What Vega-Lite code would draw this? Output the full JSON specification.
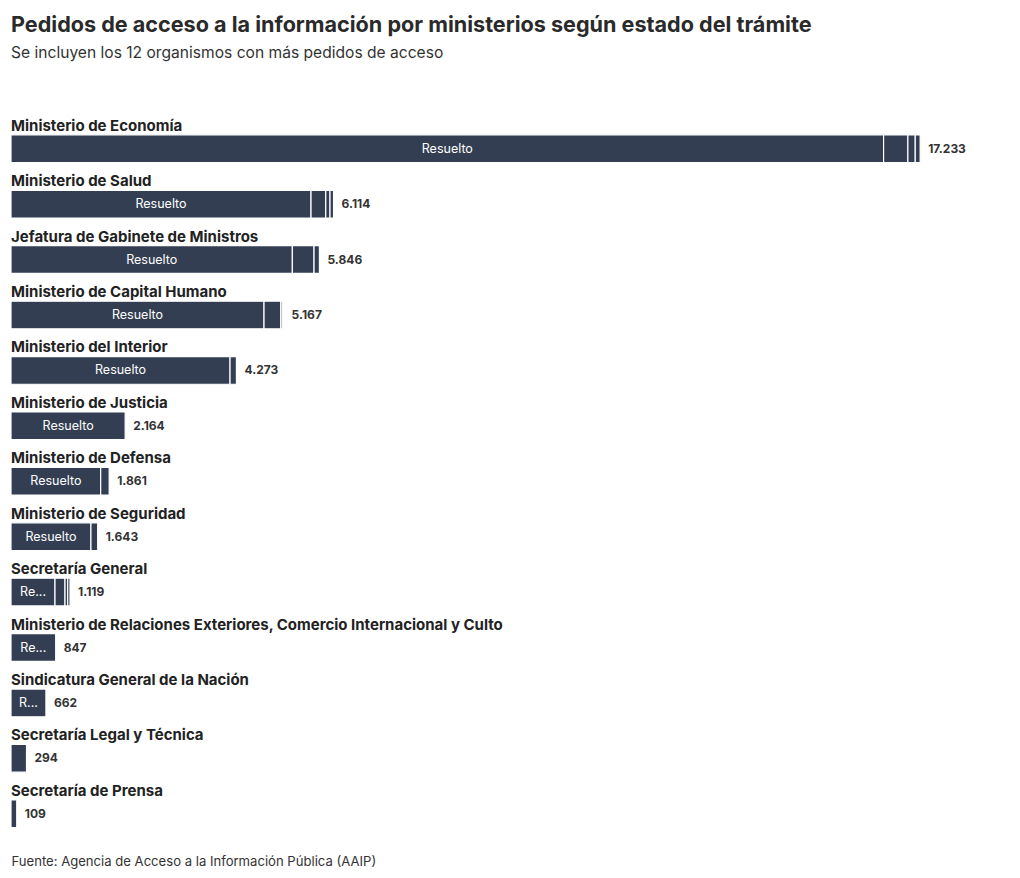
{
  "$schema": "https://vega.github.io/schema/vega-lite/v6.json",
  "autosize": {"type": "none"},
  "width": 976,
  "height": 720.5,
  "padding": {"left": 11, "top": 121, "right": 33, "bottom": 36.5},
  "background": "white",
  "title": {
    "text": "Pedidos de acceso a la información por ministerios según estado del trámite",
    "subtitle": "Se incluyen los 12 organismos con más pedidos de acceso",
    "anchor": "start",
    "frame": "group",
    "font": "Inter",
    "fontSize": 21.6,
    "fontWeight": "bold",
    "color": "#2a2a2a",
    "subtitleFont": "Inter",
    "subtitleFontSize": 15.6,
    "subtitleColor": "#333333",
    "subtitlePadding": 10,
    "offset": 57
  },
  "datasets": {
    "segs": [
      {"org": "Ministerio de Economía", "estado": "Resuelto", "ord": 1, "value": 16540},
      {"org": "Ministerio de Economía", "estado": "En trámite", "ord": 2, "value": 460},
      {"org": "Ministerio de Economía", "estado": "Vencido", "ord": 3, "value": 140},
      {"org": "Ministerio de Economía", "estado": "Desistido", "ord": 4, "value": 93},
      {"org": "Ministerio de Salud", "estado": "Resuelto", "ord": 1, "value": 5687},
      {"org": "Ministerio de Salud", "estado": "En trámite", "ord": 2, "value": 279},
      {"org": "Ministerio de Salud", "estado": "Vencido", "ord": 3, "value": 81},
      {"org": "Ministerio de Salud", "estado": "Desistido", "ord": 4, "value": 67},
      {"org": "Jefatura de Gabinete de Ministros", "estado": "Resuelto", "ord": 1, "value": 5333},
      {"org": "Jefatura de Gabinete de Ministros", "estado": "En trámite", "ord": 2, "value": 411},
      {"org": "Jefatura de Gabinete de Ministros", "estado": "Vencido", "ord": 3, "value": 102},
      {"org": "Ministerio de Capital Humano", "estado": "Resuelto", "ord": 1, "value": 4796},
      {"org": "Ministerio de Capital Humano", "estado": "En trámite", "ord": 2, "value": 317},
      {"org": "Ministerio de Capital Humano", "estado": "Vencido", "ord": 3, "value": 30},
      {"org": "Ministerio de Capital Humano", "estado": "Desistido", "ord": 4, "value": 24},
      {"org": "Ministerio del Interior", "estado": "Resuelto", "ord": 1, "value": 4152},
      {"org": "Ministerio del Interior", "estado": "En trámite", "ord": 2, "value": 121},
      {"org": "Ministerio de Justicia", "estado": "Resuelto", "ord": 1, "value": 2164},
      {"org": "Ministerio de Defensa", "estado": "Resuelto", "ord": 1, "value": 1700},
      {"org": "Ministerio de Defensa", "estado": "En trámite", "ord": 2, "value": 161},
      {"org": "Ministerio de Seguridad", "estado": "Resuelto", "ord": 1, "value": 1515},
      {"org": "Ministerio de Seguridad", "estado": "En trámite", "ord": 2, "value": 128},
      {"org": "Secretaría General", "estado": "Resuelto", "ord": 1, "value": 834},
      {"org": "Secretaría General", "estado": "En trámite", "ord": 2, "value": 190},
      {"org": "Secretaría General", "estado": "Vencido", "ord": 3, "value": 51},
      {"org": "Secretaría General", "estado": "Desistido", "ord": 4, "value": 44},
      {"org": "Ministerio de Relaciones Exteriores, Comercio Internacional y Culto", "estado": "Resuelto", "ord": 1, "value": 847},
      {"org": "Sindicatura General de la Nación", "estado": "Resuelto", "ord": 1, "value": 662},
      {"org": "Secretaría Legal y Técnica", "estado": "Resuelto", "ord": 1, "value": 294},
      {"org": "Secretaría de Prensa", "estado": "Resuelto", "ord": 1, "value": 109}
    ]
  },
  "data": {"name": "segs"},
  "encoding": {
    "y": {
      "field": "org",
      "type": "nominal",
      "sort": [
        "Ministerio de Economía",
        "Ministerio de Salud",
        "Jefatura de Gabinete de Ministros",
        "Ministerio de Capital Humano",
        "Ministerio del Interior",
        "Ministerio de Justicia",
        "Ministerio de Defensa",
        "Ministerio de Seguridad",
        "Secretaría General",
        "Ministerio de Relaciones Exteriores, Comercio Internacional y Culto",
        "Sindicatura General de la Nación",
        "Secretaría Legal y Técnica",
        "Secretaría de Prensa"
      ],
      "scale": {"paddingInner": 0.5, "paddingOuter": 0.25},
      "axis": null
    }
  },
  "layer": [
    {
      "mark": {"type": "bar", "color": "#333e52", "stroke": "white", "strokeWidth": 1.2},
      "encoding": {
        "x": {
          "field": "value",
          "type": "quantitative",
          "aggregate": "sum",
          "stack": "zero",
          "scale": {"domain": [0, 18500], "nice": false},
          "axis": {
            "domain": false,
            "ticks": false,
            "labels": false,
            "grid": false,
            "title": "Fuente: Agencia de Acceso a la Información Pública (AAIP)",
            "titleAnchor": "start",
            "titleAlign": "left",
            "titleX": 0,
            "titleY": 23.5,
            "titleBaseline": "alphabetic",
            "titleFont": "Inter",
            "titleFontSize": 13.1,
            "titleFontWeight": "normal",
            "titleColor": "#333333"
          }
        },
        "detail": {"field": "estado"},
        "order": {"field": "ord", "type": "quantitative"}
      }
    },
    {
      "transform": [{"aggregate": [{"op": "sum", "field": "value", "as": "total"}], "groupby": ["org"]}],
      "mark": {"type": "text", "align": "left", "baseline": "alphabetic", "dy": -18, "font": "Inter", "fontSize": 15, "fontWeight": "bold", "color": "#222222"},
      "encoding": {
        "x": {"datum": 0, "type": "quantitative"},
        "text": {"field": "org"}
      }
    },
    {
      "transform": [{"aggregate": [{"op": "sum", "field": "value", "as": "total"}], "groupby": ["org"]}],
      "mark": {"type": "text", "align": "left", "baseline": "middle", "dx": 8, "font": "Inter", "fontSize": 12, "fontWeight": "bold", "color": "#333333"},
      "encoding": {
        "x": {"field": "total", "type": "quantitative"},
        "text": {"field": "total", "type": "quantitative", "format": ",d"}
      }
    },
    {
      "transform": [
        {"filter": "datum.estado === 'Resuelto' && datum.value > 400"},
        {"calculate": "datum.value / 2", "as": "mid"}
      ],
      "mark": {
        "type": "text",
        "align": "center",
        "baseline": "middle",
        "font": "Inter",
        "fontSize": 12.5,
        "color": "white",
        "ellipsis": "...",
        "limit": {"expr": "scale('x', datum.value) - scale('x', 0) - 14"}
      },
      "encoding": {
        "x": {"field": "mid", "type": "quantitative"},
        "text": {"field": "estado"}
      }
    }
  ],
  "config": {
    "view": {"stroke": null},
    "locale": {"number": {"decimal": ",", "thousands": ".", "grouping": [3], "currency": ["$", ""]}}
  }
}
